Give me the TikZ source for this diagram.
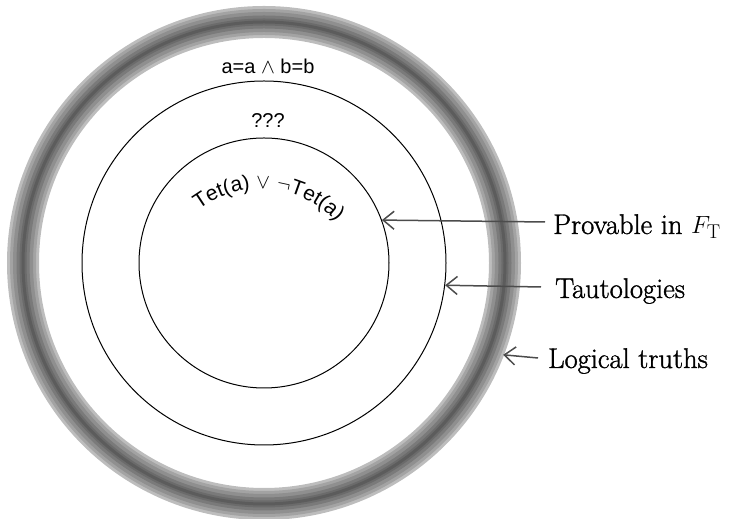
\documentclass[tikz,border=0pt]{standalone}
\usepackage{fontspec}
\setsansfont{Liberation Sans}
\newfontfamily\lblfont{Latin Modern Roman}[FakeBold=1.2]
\usetikzlibrary{arrows.meta,decorations.text}
\begin{document}
\begin{tikzpicture}[x=1pt,y=1pt,
  set/.style={circle, draw=black, line width=1pt, inner sep=0pt},
  lbl/.style={anchor=base west, inner sep=0pt, font=\lblfont\fontsize{28.5}{32}\selectfont},
  formula/.style={anchor=base, inner sep=0pt, font=\sffamily\fontsize{20}{24}\selectfont},
  pointer/.style={draw=black!70, line width=1.5pt, -{Straight Barb[length=11pt,width=18pt]}}]
\useasboundingbox (0,0) rectangle (729,519);
\coordinate (C) at (264,256);
% thick grey ring (logical truths)
\foreach \w/\c in {32/26,26/36,20/44,13/52,7/58,3/64}
  \draw[line width=\w pt, black!\c] (C) circle[radius=241pt];
\node[circle, minimum size=512pt, inner sep=0pt] (logic) at (C) {};
\node[set, minimum size=364pt] (taut) at (C) {};
\node[set, minimum size=250pt] (prov) at (C) {};
% labels
\node[lbl] (lprov) at (553,285) {Provable in $F_{\mathrm{T}}$};
\node[lbl] (ltaut) at (555,221) {Tautologies};
\node[lbl] (llog) at (548,151) {Logical truths};
% pointers
\draw[pointer] ([shift={(-8pt,12pt)}]lprov.base west) -- (prov.20);
\draw[pointer] ([shift={(-14pt,11pt)}]ltaut.base west) -- (taut.-7);
\draw[pointer] ([shift={(-10pt,10pt)}]llog.base west) -- (logic.-21.5);
% formulae
\node[formula] (f1) at (268,445) {a=a $\wedge$ b=b};
\node[formula] (f2) at (268,391) {???};
\path[decorate, decoration={text along path, text align=center,
  text={|\sffamily\fontsize{21}{25}\selectfont|Tet(a) {$\vee$} {$\neg$}Tet(a)}}]
  (261,227) ++(150:103pt) arc[start angle=150, end angle=20, radius=103pt];
\end{tikzpicture}
\end{document}
